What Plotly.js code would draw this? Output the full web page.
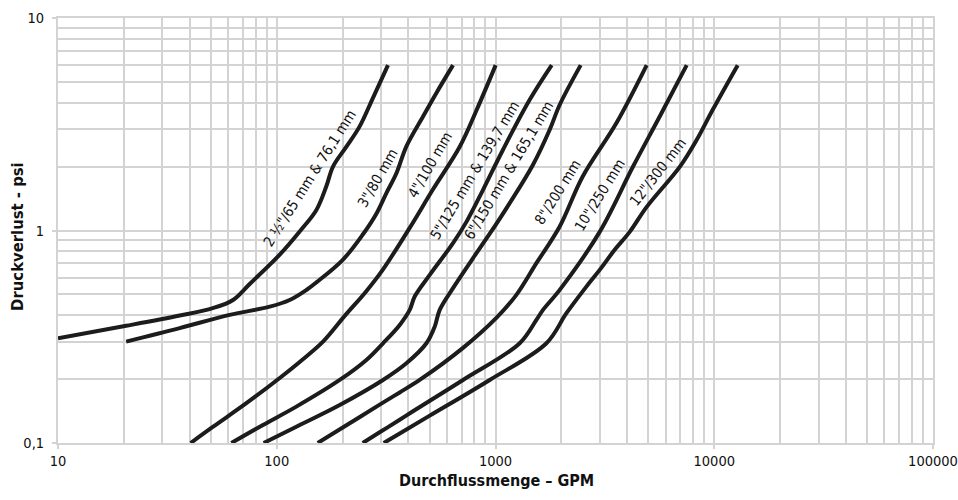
<!DOCTYPE html>
<html>
<head>
<meta charset="utf-8">
<script src="https://cdn.plot.ly/plotly-3.0.1.min.js"></script>
<style>html,body{margin:0;padding:0;background:#fff;}#chart{width:958px;height:500px;}</style>
</head>
<body>
<div id="chart"></div>
<script>
// Series: flow (GPM) and pressure loss (psi)
const seriesNames = ['2 \u00BD"/65 mm & 76,1 mm', '3"/80 mm', '4"/100 mm', '5"/125 mm & 139,7 mm',
                     '6"/150 mm & 165,1 mm', '8"/200 mm', '10"/250 mm', '12"/300 mm'];

const flow25 = [10, 20.5, 36, 51, 63.1, 75.2, 103.2, 127.3, 151.8, 168.7, 180.8, 208.2, 239.4, 275.4, 322.5];
const loss25 = [0.311, 0.356, 0.398, 0.431, 0.471, 0.56, 0.77, 0.99, 1.25, 1.62, 2.0, 2.48, 3.09, 4.21, 6.0];

const flow3 = [20.5, 36, 60.9, 92.9, 114.6, 136.6, 151.8, 200.9, 247.8, 285.4, 317.1, 352.4, 391.4, 466.3, 536.9, 639.4];
const loss3 = [0.300, 0.347, 0.401, 0.438, 0.471, 0.525, 0.57, 0.73, 0.96, 1.20, 1.50, 1.86, 2.49, 3.44, 4.44, 6.0];

const flow4 = [40.4, 51, 72.9, 103.2, 127.3, 162.3, 204.5, 255, 305, 405.3, 516.4, 686.1, 820.6, 1002];
const loss4 = [0.100, 0.119, 0.1543, 0.2023, 0.2406, 0.2989, 0.3963, 0.514, 0.653, 1.029, 1.554, 2.477, 3.70, 6.0];

const flow5 = [62, 86.5, 122.9, 194, 256.9, 306, 364.9, 405.3, 427.2, 500.4, 639.4, 736.2, 877.1, 1082, 1433, 1807];
const loss5 = [0.100, 0.1216, 0.1483, 0.198, 0.2459, 0.2947, 0.3595, 0.4229, 0.489, 0.618, 0.872, 1.098, 1.554, 2.40, 4.12, 6.0];

const flow6 = [87.1, 122.9, 194, 306, 391.4, 483.3, 527.4, 555.9, 639.4, 818, 1009, 1161, 1484, 1769, 1966, 2452];
const loss6 = [0.100, 0.1193, 0.151, 0.198, 0.2373, 0.2947, 0.3529, 0.4229, 0.5353, 0.7821, 1.075, 1.345, 2.04, 2.98, 3.906, 6.0];

const flow8 = [153.9, 208.2, 295.5, 364.9, 450.3, 710.4, 1009, 1246, 1538, 1966, 2504, 3570, 4912];
const loss8 = [0.100, 0.1212, 0.1515, 0.173, 0.198, 0.2802, 0.3879, 0.4977, 0.7018, 1.044, 1.795, 3.202, 6.0];

const flow10 = [247.1, 295.5, 364.9, 419.6, 710.4, 1290, 1538, 1649, 1966, 2995, 4253, 5632, 7484];
const loss10 = [0.100, 0.1123, 0.1287, 0.141, 0.198, 0.2947, 0.3796, 0.4229, 0.5255, 0.985, 2.0, 3.44, 6.0];

const flow12 = [308.3, 364.9, 500.4, 940.8, 1709, 2110, 2603, 2995, 3506, 4107, 4912, 6953, 8315, 9838, 12800];
const loss12 = [0.100, 0.1109, 0.1345, 0.198, 0.2947, 0.4081, 0.5445, 0.6526, 0.811, 0.985, 1.292, 1.994, 2.673, 3.70, 6.0];

const xTickVals = [10, 100, 1000, 10000, 100000];
const xTickText = ['10', '100', '1000', '10000', '100000'];
const yTickVals = [0.1, 1, 10];
const yTickText = ['0,1', '1', '10'];
const xTitle = 'Durchflussmenge \u2013 GPM';
const yTitle = 'Druckverlust - psi';

// ---- presentation ----
const flows = [flow25, flow3, flow4, flow5, flow6, flow8, flow10, flow12];
const losses = [loss25, loss3, loss4, loss5, loss6, loss8, loss10, loss12];

// label placement (data coordinates) and rotation
const labelPos = [
  {x: 141.5, y: 1.77, a: -57.5},
  {x: 289, y: 1.77, a: -60},
  {x: 500, y: 2.04, a: -60},
  {x: 804, y: 1.93, a: -59},
  {x: 1150, y: 1.93, a: -59},
  {x: 1924, y: 1.52, a: -58},
  {x: 2995, y: 1.47, a: -58},
  {x: 5514, y: 1.89, a: -52}
];

const FONT = '"Liberation Sans Narrow", "DejaVu Sans Condensed", "Open Sans", sans-serif';
const GRID = '#d3d3d3';

const traces = flows.map((f, i) => ({
  x: f, y: losses[i], type: 'scatter', mode: 'lines', name: seriesNames[i],
  line: {color: '#1c1c1c', width: 4, shape: 'spline', smoothing: 1.0},
  hoverinfo: 'skip'
}));

function minorLog(lo, hi) {
  const out = [];
  for (let d = lo; d < hi; d *= 10) for (let k = 2; k <= 9; k++) out.push(d * k);
  return out;
}

const annotations = seriesNames.map((t, i) => ({
  x: Math.log10(labelPos[i].x), y: Math.log10(labelPos[i].y), xref: 'x', yref: 'y',
  text: t, showarrow: false, textangle: labelPos[i].a,
  font: {family: FONT, size: 14.5, color: '#111'},
  bgcolor: 'rgba(255,255,255,0)', borderpad: 1, xanchor: 'center', yanchor: 'middle'
}));
annotations.push({
  text: '<b>' + xTitle + '</b>', xref: 'paper', yref: 'paper', x: 0.5006, y: -0.0894,
  xanchor: 'center', yanchor: 'middle', showarrow: false,
  font: {family: FONT, size: 16, color: '#111'}
});
annotations.push({
  text: '<b>' + yTitle + '</b>', xref: 'paper', yref: 'paper', x: -0.0457, y: 0.485,
  xanchor: 'center', yanchor: 'middle', showarrow: false, textangle: -90,
  font: {family: FONT, size: 16.5, color: '#111'}
});

const layout = {
  width: 958, height: 500,
  margin: {l: 58, r: 25, t: 18, b: 57},
  paper_bgcolor: '#fff', plot_bgcolor: '#fff',
  showlegend: false,
  font: {family: FONT, size: 14, color: '#111'},
  xaxis: {
    type: 'log', range: [1, 5], tickmode: 'array', tickvals: xTickVals, ticktext: xTickText,
    ticks: 'outside', ticklen: 4, tickwidth: 2, tickcolor: GRID, ticklabeloverflow: 'allow',
    showgrid: true, gridcolor: GRID, gridwidth: 2,
    showline: true, linecolor: GRID, linewidth: 2, mirror: true,
    zeroline: false, tickfont: {family: FONT, size: 14.5, color: '#111'},
    minor: {tickmode: 'array', tickvals: minorLog(10, 100000), showgrid: true, gridcolor: GRID, gridwidth: 2, ticks: ''}
  },
  yaxis: {
    type: 'log', range: [-1, 1], tickmode: 'array', tickvals: yTickVals, ticktext: yTickText,
    ticks: 'outside', ticklen: 4, tickwidth: 2, tickcolor: GRID, ticklabelstandoff: 5,
    showgrid: true, gridcolor: GRID, gridwidth: 2,
    showline: true, linecolor: GRID, linewidth: 2, mirror: true,
    zeroline: false, tickfont: {family: FONT, size: 14.5, color: '#111'},
    minor: {tickmode: 'array', tickvals: minorLog(0.1, 10), showgrid: true, gridcolor: GRID, gridwidth: 2, ticks: ''}
  },
  annotations: annotations
};

// white label backings drawn between the grid and the curves
function labelBackings(gd) {
  const xa = gd._fullLayout.xaxis, ya = gd._fullLayout.yaxis;
  const shapes = [];
  gd.querySelectorAll('g.annotation').forEach(node => {
    const idx = +node.getAttribute('data-index');
    if (!(idx >= 0 && idx < seriesNames.length)) return;
    const txt = node.querySelector('text.annotation-text');
    let w = 7.2 * seriesNames[idx].length, h = 18;
    try { const bb = txt.getBBox(); if (bb.width > 0) { w = bb.width + 4; h = bb.height; } } catch (e) {}
    h = Math.min(h, 17);
    const cx = xa._offset + xa.l2p(Math.log10(labelPos[idx].x));
    const cy = ya._offset + ya.l2p(Math.log10(labelPos[idx].y));
    const a = labelPos[idx].a * Math.PI / 180;
    const u = [Math.cos(a), Math.sin(a)], v = [-Math.sin(a), Math.cos(a)];
    const pts = [[-1, -1], [1, -1], [1, 1], [-1, 1]].map(([s, t]) => {
      const px = cx + s * u[0] * w / 2 + t * v[0] * h / 2;
      const py = cy + s * u[1] * w / 2 + t * v[1] * h / 2;
      return [(px - xa._offset) / xa._length, 1 - (py - ya._offset) / ya._length];
    });
    const path = 'M' + pts.map(p => p[0].toFixed(5) + ',' + p[1].toFixed(5)).join('L') + 'Z';
    shapes.push({type: 'path', xref: 'paper', yref: 'paper', path: path,
                 fillcolor: '#ffffff', line: {width: 0}, layer: 'between'});
  });
  return Plotly.relayout(gd, {shapes: shapes});
}

Plotly.newPlot('chart', traces, layout, {displayModeBar: false, staticPlot: true}).then(labelBackings);
</script>
</body>
</html>
